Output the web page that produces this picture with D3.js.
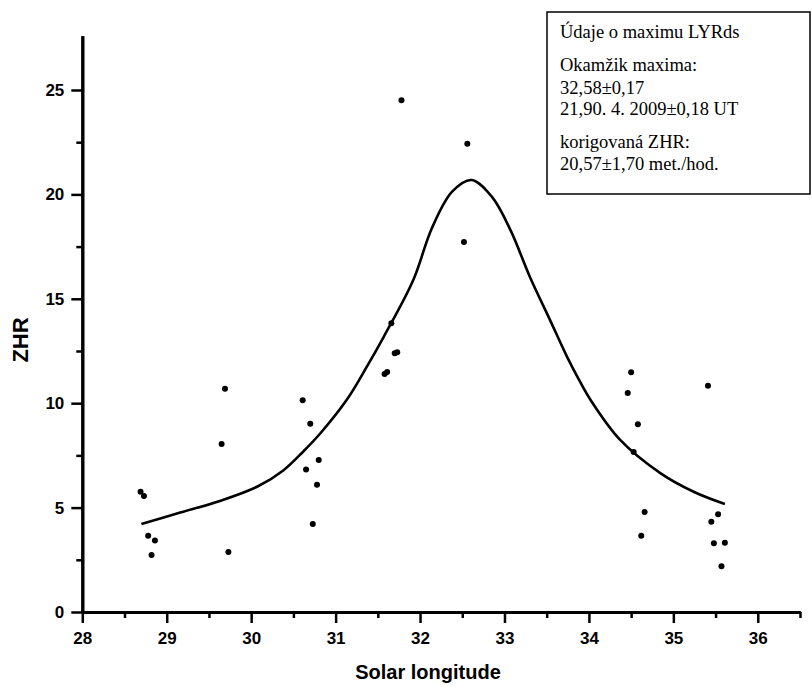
<!DOCTYPE html>
<html>
<head>
<meta charset="utf-8">
<script src="https://cdn.jsdelivr.net/npm/d3@7"></script>
<style>
  body { margin: 0; background: #fff; }
  svg { display: block; }
</style>
</head>
<body>
<div id="chart-area"></div>
<script>
/*
*    ZHR of LYRds around the maximum
*/

// observed points
var obsLongitude = [28.69, 28.73, 28.78, 28.86, 28.82, 29.69, 29.65, 29.73,
    30.61, 30.70, 30.80, 30.65, 30.78, 30.73, 31.78, 32.56, 32.52, 31.66,
    31.70, 31.73, 31.58, 31.61, 34.50, 34.46, 35.41, 34.58, 34.53, 34.66,
    34.62, 35.53, 35.45, 35.48, 35.61, 35.57];
var obsZHR = [5.76, 5.56, 3.65, 3.43, 2.73, 10.69, 8.05, 2.87,
    10.14, 9.02, 7.28, 6.83, 6.10, 4.21, 24.51, 22.43, 17.72, 13.83,
    12.39, 12.44, 11.40, 11.49, 11.48, 10.49, 10.84, 8.99, 7.66, 4.79,
    3.65, 4.68, 4.32, 3.29, 3.32, 2.19];

// fitted curve
var fitLongitude = [28.70, 29.16, 29.63, 30.07, 30.38, 30.62, 30.82, 31.13,
    31.37, 31.57, 31.92, 32.14, 32.38, 32.61, 32.85, 33.07, 33.30,
    33.54, 33.74, 33.88, 34.02, 34.37, 34.85, 35.24, 35.61];
var fitZHR = [4.22, 4.76, 5.32, 6.00, 6.78, 7.70, 8.56, 10.15,
    11.75, 13.18, 15.90, 18.38, 20.13, 20.69, 19.89, 18.30, 16.06,
    13.98, 12.23, 11.14, 10.15, 8.24, 6.64, 5.76, 5.17];

var xMajor = [28, 29, 30, 31, 32, 33, 34, 35, 36];
var xMinor = [28.5, 29.5, 30.5, 31.5, 32.5, 33.5, 34.5, 35.5, 36.5];
var yMajor = [0, 5, 10, 15, 20, 25];
var yMinor = [2.5, 7.5, 12.5, 17.5, 22.5];

var infoLines = ["Údaje o maximu LYRds", "Okamžik maxima:", "32,58±0,17",
    "21,90. 4. 2009±0,18 UT", "korigovaná ZHR:", "20,57±1,70 met./hod."];

var margin = { left: 82.3, top: 35.7 };
var width = 800 - 82.3;
var height = 612 - 35.7;

var svg = d3.select("#chart-area").append("svg")
    .attr("width", 812)
    .attr("height", 687);

var g = svg.append("g")
    .attr("transform", "translate(" + margin.left + ", " + margin.top + ")");

var x = d3.scaleLinear()
    .domain([28, 36.5])
    .range([0, width]);

var y = d3.scaleLinear()
    .domain([0, 27.6])
    .range([height, 0]);

function styleAxis(sel) {
    sel.selectAll("path.domain").attr("stroke", "#000").attr("stroke-width", 3);
    sel.selectAll(".tick line").attr("stroke", "#000").attr("stroke-width", 2.5);
    sel.selectAll(".tick text")
        .attr("fill", "#000")
        .attr("font-family", "Liberation Sans, Arial, sans-serif")
        .attr("font-weight", "bold")
        .attr("font-size", "17px");
}

// minor ticks
g.append("g")
    .attr("transform", "translate(0, " + height + ")")
    .call(d3.axisBottom(x).tickValues(xMinor).tickSize(6).tickSizeOuter(0).tickFormat(""))
    .call(styleAxis);
g.append("g")
    .call(d3.axisLeft(y).tickValues(yMinor).tickSize(6).tickSizeOuter(0).tickFormat(""))
    .call(styleAxis);

// major ticks
g.append("g")
    .attr("class", "bottom axis")
    .attr("transform", "translate(0, " + height + ")")
    .call(d3.axisBottom(x).tickValues(xMajor).tickSize(11).tickSizeOuter(0).tickPadding(9))
    .call(styleAxis);

g.append("g")
    .attr("class", "left axis")
    .call(d3.axisLeft(y).tickValues(yMajor).tickSize(11).tickSizeOuter(0).tickPadding(7))
    .call(styleAxis);

// X Label
g.append("text")
    .attr("x", 428 - margin.left)
    .attr("y", 679 - margin.top)
    .attr("font-family", "Liberation Sans, Arial, sans-serif")
    .attr("font-weight", "bold")
    .attr("font-size", "20px")
    .attr("text-anchor", "middle")
    .style("fill", "black")
    .text("Solar longitude");

// Y Label
g.append("text")
    .attr("x", -(340 - margin.top))
    .attr("y", 28 - margin.left)
    .attr("font-family", "Liberation Sans, Arial, sans-serif")
    .attr("font-weight", "bold")
    .attr("font-size", "22px")
    .attr("text-anchor", "middle")
    .style("fill", "black")
    .text("ZHR")
    .attr("transform", "rotate(-90)");

// fitted curve
var fitData = fitLongitude.map((d, i) => { return { x: d, y: fitZHR[i] }; });
var line = d3.line()
    .curve(d3.curveCatmullRom.alpha(0.5))
    .x((d) => { return x(d.x); })
    .y((d) => { return y(d.y); });

g.append("path")
    .datum(fitData)
    .attr("d", line)
    .attr("fill", "none")
    .attr("stroke", "#000")
    .attr("stroke-width", 2.6)
    .attr("stroke-linejoin", "round");

// observations
var obsData = obsLongitude.map((d, i) => { return { x: d, y: obsZHR[i] }; });
g.selectAll("circle")
    .data(obsData)
    .enter()
    .append("circle")
    .attr("cx", (d) => { return x(d.x); })
    .attr("cy", (d) => { return y(d.y); })
    .attr("r", 3)
    .attr("fill", "#000");

// info box
var box = svg.append("g").attr("transform", "translate(547, 12)");
box.append("rect")
    .attr("width", 263)
    .attr("height", 182)
    .attr("fill", "#fff")
    .attr("stroke", "#000")
    .attr("stroke-width", 1.5);

var lineY = [26, 59, 82, 103, 136, 158];
box.selectAll("text")
    .data(infoLines)
    .enter()
    .append("text")
    .attr("x", 13)
    .attr("y", (d, i) => { return lineY[i]; })
    .attr("font-family", "Liberation Serif, Times New Roman, serif")
    .attr("font-size", "18.5px")
    .style("fill", "black")
    .text((d) => { return d; });
</script>
</body>
</html>
